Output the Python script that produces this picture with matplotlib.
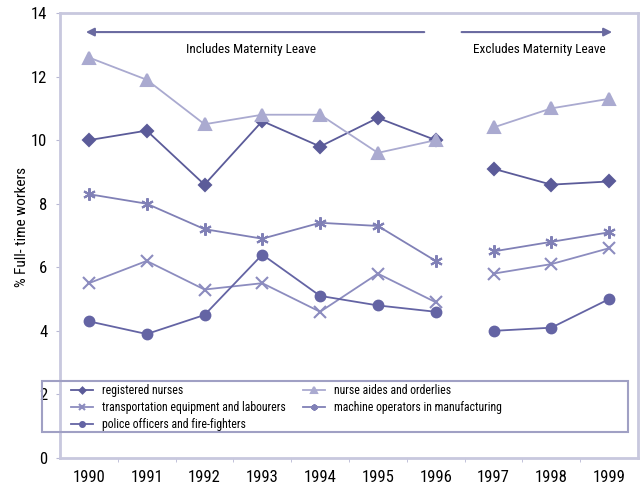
import matplotlib
matplotlib.use("Agg")
import matplotlib.pyplot as plt
from matplotlib import font_manager
from matplotlib.patches import Rectangle
import numpy as np

names = {f.name for f in font_manager.fontManager.ttflist}
fam = None
for cand in ["Roboto Condensed", "Open Sans Condensed", "Liberation Sans Narrow", "Noto Sans Condensed"]:
    if cand in names:
        fam = cand
        break
if fam is None:
    fam = "DejaVu Sans"
    plt.rcParams['font.stretch'] = 'condensed'
plt.rcParams['font.family'] = [fam, 'DejaVu Sans']

years = ["1990", "1991", "1992", "1993", "1994", "1995", "1996", "1997", "1998", "1999"]
registered_nurses = [10.0, 10.3, 8.6, 10.6, 9.8, 10.7, 10.0, 9.1, 8.6, 8.7]
nurse_aides = [12.6, 11.9, 10.5, 10.8, 10.8, 9.6, 10.0, 10.4, 11.0, 11.3]
transportation = [5.5, 6.2, 5.3, 5.5, 4.6, 5.8, 4.9, 5.8, 6.1, 6.6]
machine_operators = [8.3, 8.0, 7.2, 6.9, 7.4, 7.3, 6.2, 6.5, 6.8, 7.1]
police = [4.3, 3.9, 4.5, 6.4, 5.1, 4.8, 4.6, 4.0, 4.1, 5.0]

fig = plt.figure(figsize=(6.43, 4.97), dpi=100)
ax = fig.add_axes([60/643, 1-458/497, 578/643, 445/497])

x = np.arange(len(years))
split = 7
series = [
    ("registered nurses", registered_nurses, "#5b5b99", "D", 6, "#5b5b99"),
    ("nurse aides and orderlies", nurse_aides, "#aaaad0", "^", 8, "#aaaad0"),
    ("transportation equipment and labourers", transportation, "#8c8cbf", "x", 8, "#8c8cbf"),
    ("machine operators in manufacturing", machine_operators, "#8080b6", (6, 2, 0), 9, "#8080b6"),
    ("police officers and fire-fighters", police, "#6464a4", "o", 7, "#6464a4"),
]
handles = {}
for label, vals, col, mk, ms, lc in series:
    v = np.array(vals, dtype=float)
    for seg in (slice(0, split), slice(split, len(v))):
        h, = ax.plot(x[seg], v[seg], color=lc, lw=1.3, marker=mk, ms=ms,
                     mfc=col, mec=col, mew=1.5)
    handles[label] = h

ax.set_xlim(-0.5, len(years) - 0.5)
ax.set_ylim(0, 14)
ax.set_yticks([0, 2, 4, 6, 8, 10, 12, 14])
ax.set_xticks(x)
ax.set_xticklabels(years, fontsize=12)
ax.set_xticks(np.arange(0.5, len(years) - 1, 1), minor=True)
ax.tick_params(axis='x', which='major', length=0, pad=9)
ax.tick_params(axis='x', which='minor', length=3, color="#b8b8d4")
ax.tick_params(axis='y', length=3, color="#b8b8d4", labelsize=12, pad=6)
for s in ax.spines.values():
    s.set_color("#c8c8de")
    s.set_linewidth(2)
ax.set_ylabel("% Full- time workers", fontsize=11)
ax.yaxis.set_label_coords(-31/578, 0.52)

arrow_y = 13.4
ax.annotate("", xy=(-0.1, arrow_y), xytext=(5.85, arrow_y),
            arrowprops=dict(arrowstyle="-|>", color="#6a6aa0", lw=1.5, mutation_scale=12))
ax.annotate("", xy=(9.1, arrow_y), xytext=(6.4, arrow_y),
            arrowprops=dict(arrowstyle="-|>", color="#6a6aa0", lw=1.5, mutation_scale=12))
ax.text(2.8, 12.85, "Includes Maternity Leave", ha="center", va="center", fontsize=9.5)
ax.text(7.8, 12.85, "Excludes Maternity Leave", ha="center", va="center", fontsize=9.5)

# legend frame
fig.patches.append(Rectangle((42/643, 1-432/497), 586/643, 51/497, transform=fig.transFigure,
                             facecolor="none", edgecolor="#a0a0c4", lw=1.5, zorder=5))
col1 = ["registered nurses", "transportation equipment and labourers",
        "police officers and fire-fighters"]
col2 = ["nurse aides and orderlies", "machine operators in manufacturing"]
common = dict(fontsize=8.5, frameon=False, handlelength=1.9, markerscale=0.5,
              borderpad=0.0, labelspacing=0.35, borderaxespad=0, handletextpad=0.7)
leg1 = fig.legend([handles[k] for k in col1], col1, loc="upper left",
                  bbox_to_anchor=(71/643, 1-384/497), **common)
leg2 = fig.legend([handles[k] for k in col2], col2, loc="upper left",
                  bbox_to_anchor=(303/643, 1-384/497), **common)
leg1.set_zorder(6)
leg2.set_zorder(6)

fig.savefig("out.png", dpi=100)
